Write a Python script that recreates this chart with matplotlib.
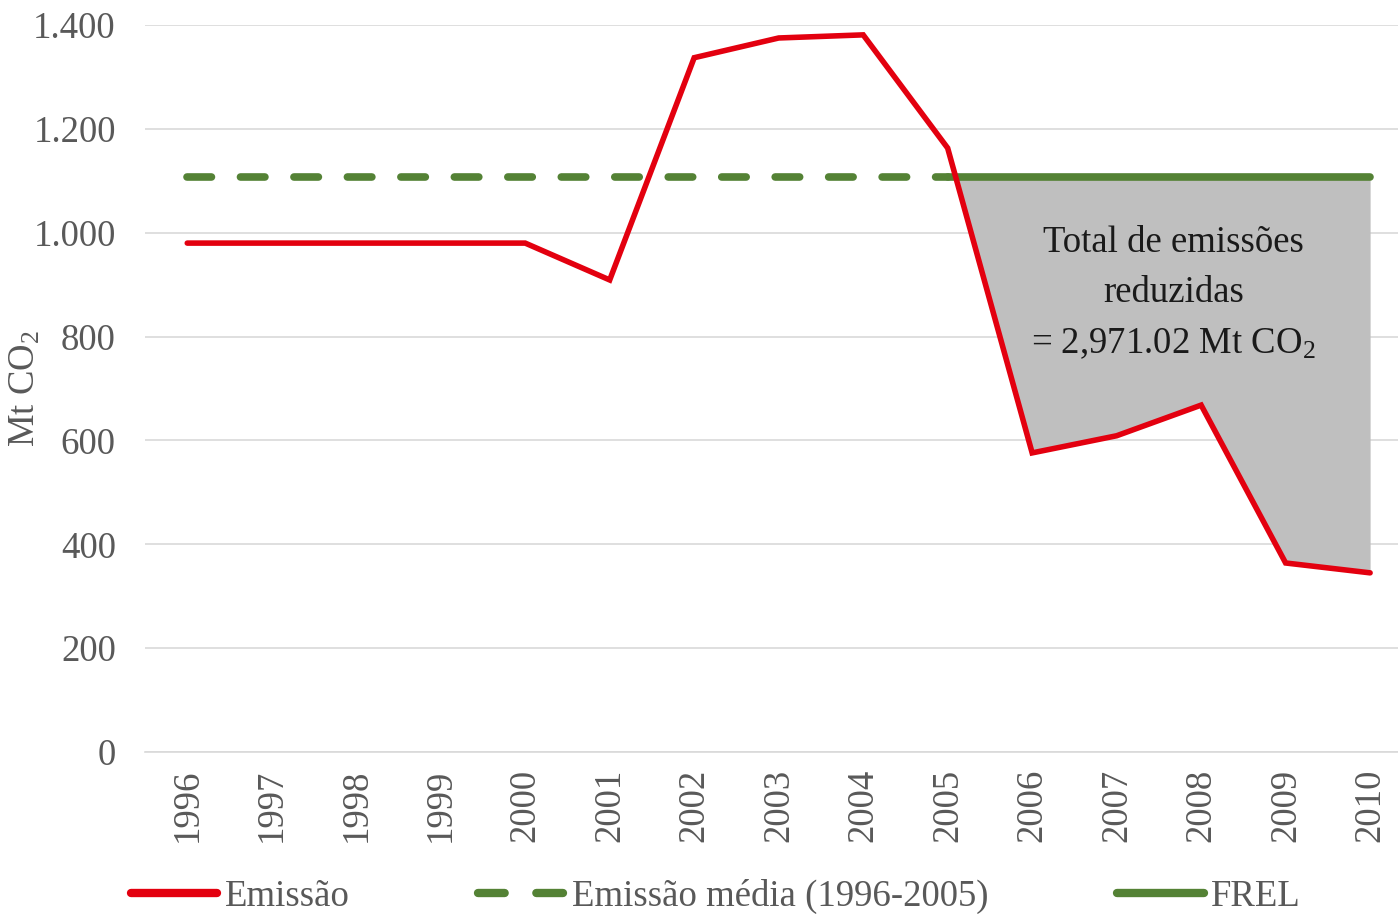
import numpy as np
import matplotlib.pyplot as plt

plt.rcParams['font.family'] = ['Liberation Serif', 'DejaVu Serif']
plt.rcParams['mathtext.fontset'] = 'custom'
plt.rcParams['mathtext.rm'] = 'Liberation Serif'
plt.rcParams['mathtext.it'] = 'Liberation Serif:italic'

# Data
years = [1996, 1997, 1998, 1999, 2000, 2001, 2002, 2003, 2004, 2005,
         2006, 2007, 2008, 2009, 2010]
emissao = [980, 980, 980, 980, 980, 909, 1337, 1375, 1381, 1163,
           576, 609, 668, 364, 345]
media = 1106.5  # average 1996-2005
yticks = [0, 200, 400, 600, 800, 1000, 1200, 1400]
ytick_labels = ["0", "200", "400", "600", "800", "1.000", "1.200", "1.400"]

fig = plt.figure(figsize=(13.98, 9.14), dpi=100)
ax = fig.add_axes([145 / 1398, 1 - 752 / 914, 1 - 145 / 1398, (752 - 25) / 914])

gray = "#595959"
red = "#e3000f"
green = "#548235"
fs = 26.5

# shaded area of reduced emissions
yrs = np.array(years)
em = np.array(emissao)
post = yrs >= 2005
ax.fill_between(yrs[post], em[post], media, where=em[post] < media,
                interpolate=True, color="#bfbfbf", lw=0, zorder=1)

ax.plot(years, emissao, color=red, lw=4, solid_capstyle="round",
        solid_joinstyle="miter", zorder=3, label="Emissão")
ax.plot([1996, 2005], [media, media], color=green, lw=5.5,
        dashes=(3.2, 3.8), dash_capstyle="round", zorder=2,
        label="Emissão média (1996-2005)")
ax.plot([2005, 2010], [media, media], color=green, lw=5.5,
        solid_capstyle="round", zorder=2, label="FREL")

ax.set_xlim(1995.5, 2010.33)
ax.set_ylim(0, 1400)
ax.set_yticks(yticks)
ax.set_yticklabels(ytick_labels)
ax.set_xticks(years)
ax.set_xticklabels([str(y) for y in years], rotation=90)
ax.tick_params(axis="both", length=0, labelsize=fs, colors=gray)
ax.tick_params(axis="y", pad=21)
ax.tick_params(axis="x", pad=12)
ax.grid(axis="y", color="#d9d9d9", lw=1.2)
for s in ["top", "right", "left"]:
    ax.spines[s].set_visible(False)
ax.spines["bottom"].set_color("#d9d9d9")
ax.spines["bottom"].set_linewidth(1.2)
ax.set_axisbelow(True)

ax.set_ylabel("Mt CO$_\\mathrm{2}$", fontsize=fs, color=gray)
ax.yaxis.set_label_coords(-0.082, 0.50)

ax.text(2007.67, 884, "Total de emissões\nreduzidas\n= 2,971.02 Mt CO$_\\mathrm{2}$",
        ha="center", va="center", fontsize=fs, color="#1a1a1a",
        linespacing=1.6, zorder=4)

leg = fig.legend(loc="center", bbox_to_anchor=(0.512, 0.019), ncol=3, frameon=False,
                 fontsize=fs, handlelength=2.35, handletextpad=0.2, columnspacing=3.5,
                 labelcolor=gray)
for line in leg.get_lines():
    line.set_linewidth(6)

fig.savefig("out.png", dpi=100)
